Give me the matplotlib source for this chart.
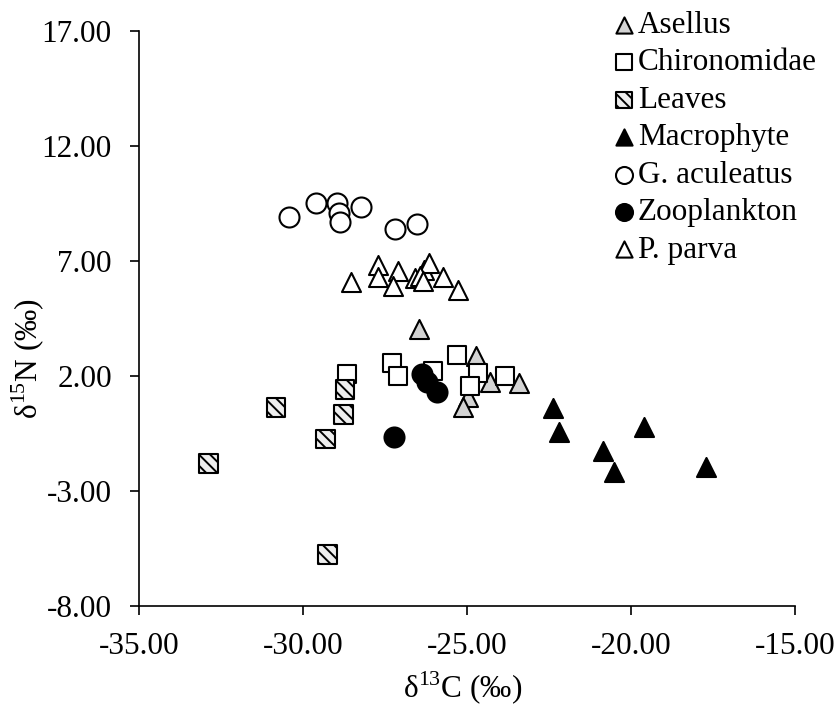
import matplotlib
matplotlib.use('Agg')
import matplotlib.pyplot as plt

plt.rcParams['font.family'] = ['Liberation Serif', 'DejaVu Serif']
plt.rcParams['mathtext.fontset'] = 'custom'
plt.rcParams['mathtext.rm'] = 'Liberation Serif'
plt.rcParams['axes.unicode_minus'] = False
plt.rcParams['hatch.linewidth'] = 1.4

# Stable isotope values (d13C, d15N) per group
asellus_c = [-26.47, -24.73, -24.30, -23.41, -24.98, -25.11]
asellus_n = [4.03, 2.87, 1.75, 1.71, 1.10, 0.65]

chiro_c = [-28.65, -27.30, -27.09, -26.03, -25.30, -24.66, -23.84, -24.91]
chiro_n = [2.07, 2.55, 2.00, 2.23, 2.91, 2.12, 2.00, 1.57]

leaves_c = [-28.72, -28.76, -30.82, -29.32, -32.89, -29.25]
leaves_n = [1.42, 0.33, 0.64, -0.74, -1.80, -5.75]

macro_c = [-22.37, -22.19, -19.59, -20.86, -20.51, -17.71]
macro_n = [0.60, -0.42, -0.20, -1.26, -2.16, -1.94]

gacul_c = [-30.43, -29.59, -28.97, -28.91, -28.86, -28.24, -27.20, -26.52]
gacul_n = [8.91, 9.53, 9.51, 9.10, 8.71, 9.36, 8.39, 8.60]

zoo_c = [-26.38, -26.23, -25.92, -27.22]
zoo_n = [2.07, 1.75, 1.32, -0.64]

parva_c = [-28.53, -27.72, -27.72, -27.10, -27.26, -26.57, -26.32, -26.15,
           -26.43, -26.35, -25.74, -25.27]
parva_n = [6.07, 6.81, 6.29, 6.57, 5.91, 6.26, 6.61, 6.93,
           6.35, 6.14, 6.29, 5.74]

xticks = [-35, -30, -25, -20, -15]
yticks = [-8, -3, 2, 7, 12, 17]

fs = 22.5

fig = plt.figure(figsize=(8.37, 7.06), dpi=100)
ax = fig.add_axes([0.166, 0.1416, 0.7838, 0.8144])

ms_tri = 13.7 ** 2
ms_sq = 13.5 ** 2
ms_circ = 14.4 ** 2
lw = 1.5

ax.scatter(asellus_c, asellus_n, marker='^', s=ms_tri, facecolor='#D3D3D3',
           edgecolor='black', linewidth=lw, label='Asellus', zorder=3)
ax.scatter(chiro_c, chiro_n, marker='s', s=ms_sq, facecolor='white',
           edgecolor='black', linewidth=lw, label='Chironomidae', zorder=3)
ax.scatter(leaves_c, leaves_n, marker='s', s=ms_sq, facecolor='#EEEEEE',
           edgecolor='black', hatch='\\\\\\', linewidth=lw, label='Leaves', zorder=3)
ax.scatter(macro_c, macro_n, marker='^', s=ms_tri, facecolor='black',
           edgecolor='black', linewidth=lw, label='Macrophyte', zorder=3)
ax.scatter(gacul_c, gacul_n, marker='o', s=ms_circ, facecolor='white',
           edgecolor='black', linewidth=lw, label='G. aculeatus', zorder=3)
ax.scatter(zoo_c, zoo_n, marker='o', s=ms_circ, facecolor='black',
           edgecolor='black', linewidth=lw, label='Zooplankton', zorder=3)
ax.scatter(parva_c, parva_n, marker='^', s=ms_tri, facecolor='white',
           edgecolor='black', linewidth=lw, label='P. parva', zorder=3)

ax.set_xlim(-35, -15)
ax.set_ylim(-8, 17)
ax.set_xticks(xticks)
ax.set_yticks(yticks)
ax.set_xticklabels(['%.2f' % v for v in xticks])
ax.set_yticklabels(['%.2f' % v for v in yticks])

for side in ['top', 'right']:
    ax.spines[side].set_visible(False)
for side in ['left', 'bottom']:
    ax.spines[side].set_linewidth(1.2)

ax.tick_params(axis='both', direction='out', length=6.5, width=1.2,
               labelsize=fs, color='black')
ax.tick_params(axis='x', pad=12)
ax.tick_params(axis='y', pad=13)

ax.set_xlabel('δ$^{13}$C (‰)', fontsize=fs)
ax.set_ylabel('δ$^{15}$N (‰)', fontsize=fs)
ax.xaxis.set_label_coords(0.494, -0.143)
ax.xaxis.label.set_va('center')
ax.yaxis.set_label_coords(-0.169, 0.431)
ax.yaxis.label.set_va('center')

ax.legend(loc='upper left', bbox_to_anchor=(612 / 837, 1 - 11 / 706),
          bbox_transform=fig.transFigure, frameon=False, fontsize=fs,
          borderpad=0, borderaxespad=0, handlelength=0.75, handletextpad=0.08,
          labelspacing=0.27, markerscale=0.85, scatterpoints=1)

fig.savefig('out.png', dpi=100)
